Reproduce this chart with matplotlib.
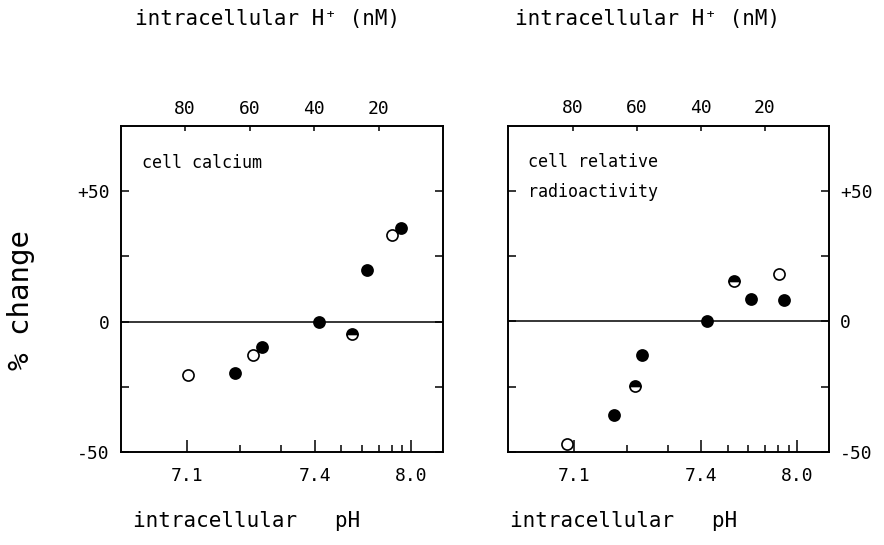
import numpy as np
import matplotlib
matplotlib.use('Agg')
import matplotlib.pyplot as plt

# ---- data (x read as intracellular H+ in nM, y as % change) ----
ph_major = [7.1, 7.4, 8.0]
ph_minor = [7.2, 7.3, 7.5, 7.6, 7.7, 7.8, 7.9]
h_ticks = [80, 60, 40, 20]
y_ticks = [-50, -25, 0, 25, 50]
y_ticklabels = ['-50', '', '0', '', '+50']

ca_open_h = [79.0, 58.8, 15.8]
ca_open_y = [-20.5, -12.8, 33.1]
ca_fill_h = [64.5, 56.2, 38.6, 23.5, 13.0]
ca_fill_y = [-19.8, -9.6, 0.0, 19.9, 35.9]
ca_half_h = [28.2]
ca_half_y = [-4.8]

ra_open_h = [81.6, 15.6]
ra_open_y = [-47.0, 18.2]
ra_fill_h = [67.0, 58.3, 38.2, 24.2, 14.0]
ra_fill_y = [-35.9, -12.8, 0.0, 8.7, 8.3]
ra_half_h = [60.6, 29.5]
ra_half_y = [-24.7, 15.6]


def ph_to_h(ph):
    return 10 ** (9 - np.asarray(ph, dtype=float))


plt.rcParams['font.family'] = ['DejaVu Sans Mono', 'DejaVu Sans']
fig = plt.figure(figsize=(8.84, 5.45), dpi=100)

ms = 8
mew = 1.2
tick_fs = 13


def make_panel(rect, open_h, open_y, fill_h, fill_y, half_h, half_y, right_labels):
    ax = fig.add_axes(rect)
    ax.set_xlim(100, 0)
    ax.set_ylim(-50, 75)
    for s in ax.spines.values():
        s.set_linewidth(1.2)
    ax.axhline(0, color='black', lw=1.1, zorder=1)
    ax.plot(open_h, open_y, 'o', ms=ms, mfc='white', mec='black', mew=mew, zorder=3)
    ax.plot(half_h, half_y, 'o', ms=ms, fillstyle='top', mfc='black',
            mfcalt='white', mec='black', mew=mew, zorder=3)
    ax.plot(fill_h, fill_y, 'o', ms=ms, mfc='black', mec='black', mew=mew, zorder=4)

    # bottom pH axis
    ax.set_xticks(ph_to_h(ph_major))
    ax.set_xticklabels([f'{p:.1f}' for p in ph_major])
    ax.set_xticks(ph_to_h(ph_minor), minor=True)
    ax.tick_params(axis='x', which='major', direction='in', length=8.5, width=1.1,
                   labelsize=tick_fs, pad=11, top=False)
    ax.tick_params(axis='x', which='minor', direction='in', length=5, width=1.1, top=False)

    # y axis
    ax.set_yticks(y_ticks)
    ax.set_yticklabels(y_ticklabels)
    ax.tick_params(axis='y', direction='in', length=5.5, width=1.1, labelsize=tick_fs,
                   left=True, right=True, labelleft=not right_labels,
                   labelright=right_labels, pad=8)

    # top H+ axis
    axt = ax.twiny()
    axt.set_xlim(ax.get_xlim())
    axt.set_xticks(h_ticks)
    axt.set_xticklabels([str(h) for h in h_ticks])
    axt.tick_params(axis='x', direction='in', length=3.5, width=1.1, labelsize=tick_fs, pad=6)
    for s in axt.spines.values():
        s.set_linewidth(1.2)
    return ax


axL = make_panel([0.1365, 0.1706, 0.3646, 0.598], ca_open_h, ca_open_y,
                 ca_fill_h, ca_fill_y, ca_half_h, ca_half_y, False)
axR = make_panel([0.5752, 0.1712, 0.3626, 0.598], ra_open_h, ra_open_y,
                 ra_fill_h, ra_fill_y, ra_half_h, ra_half_y, True)

axL.text(0.066, 0.871, 'cell calcium', transform=axL.transAxes, fontsize=12,
         ha='left', va='baseline')
axR.text(0.062, 0.874, 'cell relative', transform=axR.transAxes, fontsize=12,
         ha='left', va='baseline')
axR.text(0.062, 0.782, 'radioactivity', transform=axR.transAxes, fontsize=12,
         ha='left', va='baseline')

# titles and axis labels
fig.text(135 / 884, 1 - 25 / 545, 'intracellular H\u207a (nM)', fontsize=15,
         ha='left', va='baseline')
fig.text(515 / 884, 1 - 25 / 545, 'intracellular H\u207a (nM)', fontsize=15,
         ha='left', va='baseline')
fig.text(133 / 884, 18 / 545, 'intracellular   pH', fontsize=15,
         ha='left', va='baseline')
fig.text(510 / 884, 18 / 545, 'intracellular   pH', fontsize=15,
         ha='left', va='baseline')
fig.text(21 / 884, 1 - 300 / 545, '% change', fontsize=21, rotation=90,
         ha='center', va='center')

fig.savefig('out.png', dpi=100)
